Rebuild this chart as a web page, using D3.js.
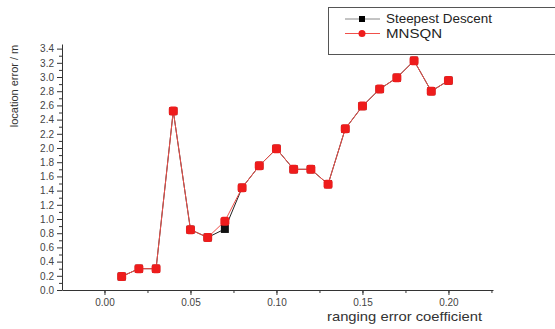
<!DOCTYPE html>
<html>
<head>
<meta charset="utf-8">
<script src="https://cdn.jsdelivr.net/npm/d3@7"></script>
<style>
  body { margin: 0; background: #fff; }
  svg { font-family: "Liberation Sans", Arial, sans-serif; }
  .axis path, .axis line { stroke: #333; }
  .axis text { fill: #444; font-size: 10px; }
</style>
</head>
<body>
<div id="chart"></div>
<script>
// data
const coefficients = [0.01, 0.02, 0.03, 0.04, 0.05, 0.06, 0.07, 0.08, 0.09, 0.10,
  0.11, 0.12, 0.13, 0.14, 0.15, 0.16, 0.17, 0.18, 0.19, 0.20];
const steepestDescent = [0.19, 0.30, 0.30, 2.52, 0.85, 0.74, 0.86, 1.44, 1.75, 1.99,
  1.70, 1.70, 1.49, 2.27, 2.59, 2.83, 2.99, 3.23, 2.80, 2.95];
const mnsqn = [0.19, 0.30, 0.30, 2.52, 0.85, 0.74, 0.97, 1.44, 1.75, 1.99,
  1.70, 1.70, 1.49, 2.27, 2.59, 2.83, 2.99, 3.23, 2.80, 2.95];
const xTicks = [0.00, 0.05, 0.10, 0.15, 0.20];
const yTicks = [0, 0.2, 0.4, 0.6, 0.8, 1.0, 1.2, 1.4, 1.6, 1.8, 2.0, 2.2, 2.4, 2.6, 2.8, 3.0, 3.2, 3.4];
const seriesNames = ["Steepest Descent", "MNSQN"];

const width = 555, height = 329;
const margin = { top: 44, right: 62, bottom: 39, left: 62 };

const svg = d3.select("#chart")
  .append("svg")
  .attr("width", width)
  .attr("height", height);

const g = svg.append("g")
  .attr("transform", "translate(" + margin.left + "," + margin.top + ")");

const w = width - margin.left - margin.right;
const h = height - margin.top - margin.bottom;

const xScale = d3.scaleLinear().domain([-0.0247, 0.2259]).range([0, w]);
const yScale = d3.scaleLinear().domain([0, 3.465]).range([h, 0]);

// minor ticks
const xMinor = d3.range(-0.025, 0.226, 0.025).filter(v => v > -0.0247 && v < 0.2259);
const yMinor = d3.range(0.1, 3.45, 0.2);

g.append("g")
  .attr("class", "x axis")
  .attr("transform", "translate(0," + h + ")")
  .call(d3.axisBottom(xScale).tickValues(xMinor).tickSize(3).tickFormat("").tickSizeOuter(0))
  .call(a => a.select(".domain").remove());

g.append("g")
  .attr("class", "x axis")
  .attr("transform", "translate(0," + h + ")")
  .call(d3.axisBottom(xScale).tickValues(xTicks).tickSize(5).tickSizeOuter(0).tickPadding(4)
    .tickFormat(d3.format(".2f")));

g.append("g")
  .attr("class", "y axis")
  .call(d3.axisLeft(yScale).tickValues(yMinor).tickSize(3).tickFormat("").tickSizeOuter(0))
  .call(a => a.select(".domain").remove());

g.append("g")
  .attr("class", "y axis")
  .call(d3.axisLeft(yScale).tickValues(yTicks).tickSize(5).tickSizeOuter(0).tickPadding(3)
    .tickFormat(d3.format(".1f")));

// axis titles
svg.append("text")
  .attr("transform", "translate(18,86) rotate(-90)")
  .attr("text-anchor", "middle")
  .style("font-size", "11px")
  .attr("fill", "#333")
  .text("location error / m");

svg.append("text")
  .attr("x", 327)
  .attr("y", 321)
  .attr("textLength", 155)
  .attr("lengthAdjust", "spacingAndGlyphs")
  .style("font-size", "13px")
  .attr("fill", "#333")
  .text("ranging error coefficient");

const line = d3.line()
  .x((d, i) => xScale(coefficients[i]))
  .y(d => yScale(d));

// Steepest Descent
g.append("path")
  .attr("d", line(steepestDescent))
  .attr("fill", "none")
  .attr("stroke", "#222")
  .attr("stroke-width", 1);

g.selectAll(".sd")
  .data(steepestDescent)
  .enter()
  .append("rect")
  .attr("class", "sd")
  .attr("x", (d, i) => xScale(coefficients[i]) - 4)
  .attr("y", d => yScale(d) - 4)
  .attr("width", 8)
  .attr("height", 8)
  .attr("fill", "#111");

// MNSQN
g.append("path")
  .attr("d", line(mnsqn))
  .attr("fill", "none")
  .attr("stroke", "#f0504a")
  .attr("stroke-width", 1);

g.selectAll(".mn")
  .data(mnsqn)
  .enter()
  .append("rect")
  .attr("class", "mn")
  .attr("x", (d, i) => xScale(coefficients[i]) - 4.5)
  .attr("y", d => yScale(d) - 4.5)
  .attr("width", 9)
  .attr("height", 9)
  .attr("rx", 2.5)
  .attr("fill", "#ee1c1c");

// legend
const legend = svg.append("g");
legend.append("rect")
  .attr("x", 328.5)
  .attr("y", 7.5)
  .attr("width", 240)
  .attr("height", 47)
  .attr("fill", "#fff")
  .attr("stroke", "#555");

seriesNames.forEach((name, i) => {
  const y = 19 + i * 14.5;
  const col = i === 0 ? "#222" : "#f0504a";
  legend.append("line")
    .attr("x1", 345).attr("x2", 380)
    .attr("y1", y).attr("y2", y)
    .attr("stroke", i === 0 ? "#888" : col)
    .attr("stroke-width", 1);
  if (i === 0) {
    legend.append("rect")
      .attr("x", 359).attr("y", y - 3)
      .attr("width", 6).attr("height", 6)
      .attr("fill", "#000");
  } else {
    legend.append("circle")
      .attr("cx", 362).attr("cy", y)
      .attr("r", 3.5)
      .attr("fill", "#ee1c1c");
  }
  legend.append("text")
    .attr("x", 386)
    .attr("y", y + 4)
    .attr("textLength", i === 0 ? 106 : 56)
    .attr("lengthAdjust", "spacingAndGlyphs")
    .style("font-size", "12px")
    .attr("fill", "#222")
    .text(name);
});
</script>
</body>
</html>
